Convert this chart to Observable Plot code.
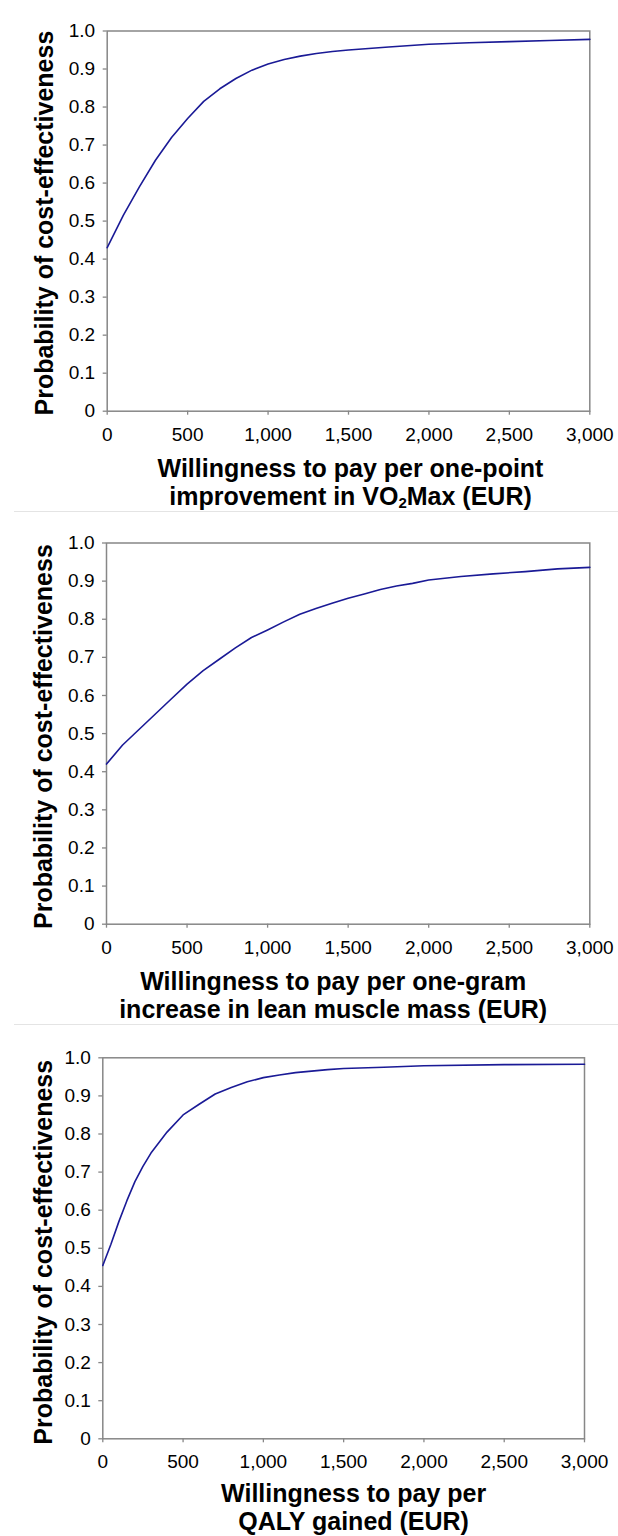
<!DOCTYPE html>
<html>
<head>
<meta charset="utf-8">
<script src="https://cdn.jsdelivr.net/npm/d3@7"></script>
<script src="https://cdn.jsdelivr.net/npm/@observablehq/plot@0.6"></script>
<style>
  body { margin: 0; background: white; }
  #root { width: 618px; }
  .sep { height: 1px; background: #e4e4e4; margin-left: 14px; }
  svg { display: block; }
</style>
</head>
<body>
<div id="root"></div>
<script>
// ---- data ----
const xTicks = [0, 500, 1000, 1500, 2000, 2500, 3000];
const yTicks = [0, 0.1, 0.2, 0.3, 0.4, 0.5, 0.6, 0.7, 0.8, 0.9, 1.0];
const yTitle = "Probability of cost-effectiveness";

// Panel 1: VO2Max
const wtp1 = [0, 100, 200, 300, 400, 500, 600, 700, 800, 900, 1000, 1100, 1200, 1300, 1400, 1500, 1750, 2000, 2250, 2500, 2750, 3000];
const prob1 = [0.43, 0.515, 0.59, 0.66, 0.72, 0.77, 0.815, 0.848, 0.875, 0.897, 0.913, 0.925, 0.934, 0.941, 0.946, 0.950, 0.958, 0.965, 0.969, 0.972, 0.975, 0.978];
const title1 = "Willingness to pay per one-point\nimprovement in VO2Max (EUR)";

// Panel 2: lean muscle mass
const wtp2 = [0, 100, 200, 300, 400, 500, 600, 700, 800, 900, 1000, 1100, 1200, 1300, 1400, 1500, 1600, 1700, 1800, 1900, 2000, 2200, 2400, 2600, 2800, 3000];
const prob2 = [0.42, 0.47, 0.51, 0.55, 0.59, 0.63, 0.665, 0.695, 0.725, 0.752, 0.772, 0.793, 0.813, 0.828, 0.842, 0.855, 0.866, 0.878, 0.887, 0.894, 0.903, 0.912, 0.919, 0.925, 0.932, 0.936];
const title2 = "Willingness to pay per one-gram\nincrease in lean muscle mass (EUR)";

// Panel 3: QALY
const wtp3 = [0, 50, 100, 150, 200, 250, 300, 400, 500, 600, 700, 800, 900, 1000, 1100, 1200, 1300, 1400, 1500, 1750, 2000, 2500, 3000];
const prob3 = [0.455, 0.51, 0.57, 0.625, 0.675, 0.715, 0.75, 0.805, 0.85, 0.878, 0.905, 0.922, 0.937, 0.948, 0.955, 0.961, 0.965, 0.969, 0.972, 0.975, 0.979, 0.982, 0.983];
const title3 = "Willingness to pay per\nQALY gained (EUR)";

// ---- drawing ----
const FONT = "Arial, 'Liberation Sans', sans-serif";
const FRAME = "#878787";
const LINE = "#1a1a96";

function panel(wtp, prob, title, g) {
  const data = wtp.map((w, i) => ({wtp: w, p: prob[i]}));
  return Plot.plot({
    width: 618,
    height: g.h,
    marginLeft: g.ml,
    marginRight: g.mr,
    marginTop: g.mt,
    marginBottom: g.mb,
    style: {fontFamily: FONT, background: "white", color: "#000"},
    x: {domain: [0, 3000]},
    y: {domain: [0, 1]},
    marks: [
      Plot.frame({stroke: FRAME, strokeWidth: 1.5}),
      Plot.axisY({ticks: yTicks, tickFormat: d => d === 0 ? "0" : d.toFixed(1), tickSize: 4, tickPadding: 8, fontSize: 19, stroke: FRAME, strokeWidth: 1.3, label: null}),
      Plot.axisX({ticks: xTicks, tickFormat: d3.format(","), tickSize: 4, tickPadding: 12, fontSize: 19, stroke: FRAME, strokeWidth: 1.3, label: null}),
      Plot.line(data, {x: "wtp", y: "p", stroke: LINE, strokeWidth: 1.6}),
      Plot.text([title], {frameAnchor: "bottom", lineAnchor: "top", textAnchor: "middle", dy: g.tdy, dx: g.tdx, fontSize: 25, fontWeight: "bold", lineHeight: 1.1, fill: "#000"}),
      Plot.text([yTitle], {frameAnchor: "left", textAnchor: "middle", rotate: -90, dx: g.ydx, dy: g.ydy, fontSize: 25, fontWeight: "bold", fill: "#000"})
    ]
  });
}

const root = document.getElementById("root");
const p1 = panel(wtp1, prob1, title1, {h: 511, ml: 106.7, mr: 28.7, mt: 30.5, mb: 100.3, tdx: 2, tdy: 46.5, ydx: -62, ydy: 2});
const p2 = panel(wtp2, prob2, title2, {h: 512, ml: 106, mr: 28.7, mt: 30.5, mb: 100.3, tdx: -15, tdy: 46.5, ydx: -63, ydy: 3});
const p3 = panel(wtp3, prob3, title3, {h: 511, ml: 102.3, mr: 34, mt: 32.3, mb: 97.7, tdx: 10, tdy: 44, ydx: -59, ydy: 4});

root.append(p1);
const s1 = document.createElement("div"); s1.className = "sep"; root.append(s1);
root.append(p2);
const s2 = document.createElement("div"); s2.className = "sep"; root.append(s2);
root.append(p3);

// subscript 2 in VO2Max
d3.select(p1).selectAll("tspan").each(function() {
  if (this.textContent.includes("VO2Max")) {
    this.innerHTML = 'improvement in VO<tspan font-size="15" dy="3">2</tspan><tspan dy="-3">Max (EUR)</tspan>';
  }
});
</script>
</body>
</html>
